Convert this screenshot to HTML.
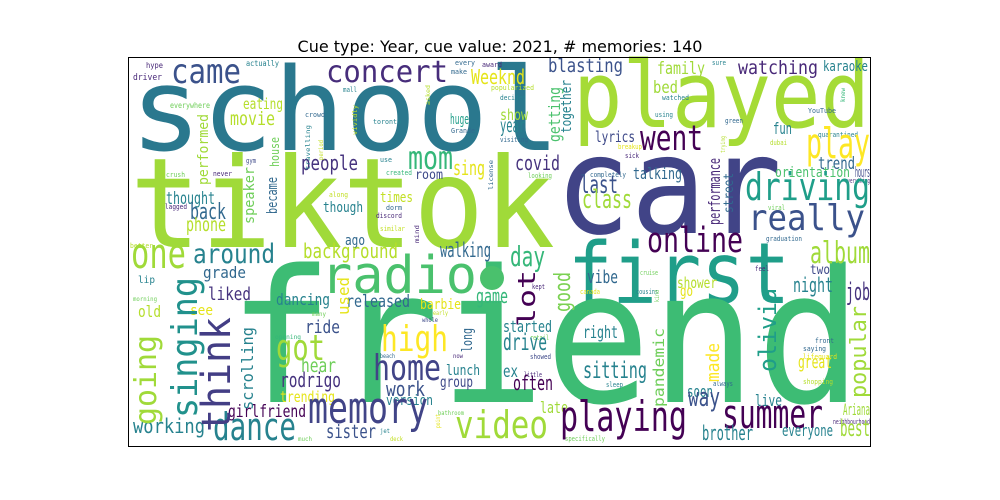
<!DOCTYPE html>
<html><head><meta charset="utf-8"><style>
html,body{margin:0;padding:0;background:#fff;}
svg{display:block;}
text{font-family:"DejaVu Sans Mono","Liberation Mono",monospace;}
</style></head><body>
<svg id="wc" width="1000" height="500" viewBox="0 0 1000 500">
<text x="500" y="52" text-anchor="middle" style="font-family:'DejaVu Sans','Liberation Sans',sans-serif" font-size="16" fill="#000">Cue type: Year, cue value: 2021, # memories: 140</text>
<rect x="128.5" y="57.5" width="742" height="389" fill="#fff" stroke="none"/>
<g id="words"></g>
<rect x="128.5" y="57.5" width="742" height="389" fill="none" stroke="#000" stroke-width="1"/>
</svg>
<script>
// [text, x, baselineY, fontSize, length, color, vertical]
const words = [
["school",130,150,115,430,"#2a788e",0],
["tiktok",130,247,125,425,"#a0da39",0],
["played",573,127,92,297,"#a5db36",0],
["car",555,233,136,227,"#414487",0],
["first",568,303,85,222,"#1f9e89",0],
["radio",321,293,52,156,"#4ac16d",0],
["friend",228,402,185,634,"#3dbc74",0],
["came",171,83,34,70,"#3b528b",0],
["concert",326,82,30,122,"#472d7b",0],
["Weeknd",471,84,20,54,"#e5e419",0],
["hype",146,68,8,17,"#482878",0],
["actually",246,66,8,33,"#26828e",0],
["driver",133,80,9,29,"#482878",0],
["everywhere",170,108,8,40,"#6ece58",0],
["eating",243,109,15,40,"#b5de2b",0],
["movie",230,125,19,45,"#b5de2b",0],
["mom",408,169,32,45,"#35b779",0],
["sing",453,175,20,32,"#e5e419",0],
["people",301,170,20,57,"#46337e",0],
["room",415,179,13,28,"#3e4989",0],
["huge",450,124,14,19,"#1f9e89",0],
["thought",166,204,17,49,"#26828e",0],
["back",190,219,22,36,"#31688e",0],
["phone",186,231,19,40,"#b5de2b",0],
["times",380,202,14,33,"#c2df23",0],
["though",323,212,14,40,"#26828e",0],
["ago",345,245,14,20,"#31688e",0],
["gym",246,163,7,10,"#3e4989",0],
["crush",166,177,7,19,"#6ece58",0],
["never",213,176,7,19,"#482878",0],
["lagged",165,209,7,22,"#482878",0],
["better",130,248,7,23,"#b5de2b",0],
["crowd",305,117,7,20,"#31688e",0],
["mall",343,92,7,14,"#26828e",0],
["toronto",373,124,7,28,"#26828e",0],
["Grande",451,133,7,24,"#31688e",0],
["use",380,162,7,12,"#26828e",0],
["created",386,175,7,26,"#35b779",0],
["every",455,65,7,20,"#31688e",0],
["make",451,74,7,16,"#31688e",0],
["award",482,67,7,20,"#482878",0],
["popularized",491,90,7,43,"#b5de2b",0],
["decided",500,100,7,26,"#26828e",0],
["visiting",500,142,7,28,"#31688e",0],
["along",329,197,7,19,"#c2df23",0],
["dorm",386,210,7,16,"#31688e",0],
["discord",376,218,7,26,"#482878",0],
["similar",380,231,7,25,"#c2df23",0],
["walking",440,257,20,51,"#31688e",0],
["background",303,258,20,95,"#b5de2b",0],
["around",193,263,27,82,"#26828e",0],
["one",131,268,42,55,"#a0da39",0],
["grade",203,278,16,43,"#31688e",0],
["lip",138,283,10,17,"#26828e",0],
["morning",133,301,6,24,"#6ece58",0],
["liked",208,300,18,43,"#46337e",0],
["old",138,317,16,23,"#b5de2b",0],
["see",190,315,14,23,"#e5e419",0],
["dancing",276,305,16,54,"#26828e",0],
["released",346,307,17,64,"#31688e",0],
["game",476,303,20,32,"#35b779",0],
["barbie",420,309,14,41,"#e5e419",0],
["early",433,315,6,15,"#c2df23",0],
["whole",422,322,6,16,"#3e4989",0],
["many",312,316,6,14,"#6ece58",0],
["ride",305,333,18,35,"#3b528b",0],
["opening",275,339,6,26,"#35b779",0],
["got",276,360,36,49,"#a0da39",0],
["high",381,351,36,67,"#fde725",0],
["home",373,380,36,68,"#414487",0],
["beach",380,358,6,15,"#31688e",0],
["now",453,358,6,10,"#482878",0],
["hear",301,372,19,35,"#6ece58",0],
["lunch",446,375,14,34,"#26828e",0],
["rodrigo",280,387,20,61,"#46337e",0],
["group",440,387,15,33,"#3e4989",0],
["work",386,396,20,39,"#3b528b",0],
["trending",280,402,15,55,"#e5e419",0],
["version",386,405,14,47,"#26828e",0],
["girlfriend",228,417,17,78,"#440154",0],
["memory",308,423,44,120,"#414487",0],
["bathroom",438,415,6,26,"#6ece58",0],
["jet",380,433,6,10,"#26828e",0],
["deck",390,441,6,13,"#c2df23",0],
["much",298,441,6,14,"#6ece58",0],
["working",133,433,20,72,"#26828e",0],
["dance",213,440,38,83,"#26828e",0],
["sister",326,438,19,50,"#3b528b",0],
["video",455,438,38,93,"#a0da39",0],
["blasting",548,72,19,75,"#3b528b",0],
["family",657,74,17,48,"#a0da39",0],
["watching",738,74,19,80,"#482878",0],
["karaoke",823,71,14,45,"#26828e",0],
["sure",712,65,7,14,"#26828e",0],
["bed",653,93,17,25,"#a0da39",0],
["watched",662,100,7,27,"#26828e",0],
["using",655,117,7,18,"#26828e",0],
["green",725,123,7,18,"#31688e",0],
["YouTube",808,113,7,28,"#31688e",0],
["quarantined",818,137,7,40,"#26828e",0],
["dubai",770,145,7,17,"#b5de2b",0],
["breakup",618,149,7,24,"#e5e419",0],
["sick",625,158,7,14,"#482878",0],
["completely",590,177,7,36,"#31688e",0],
["looking",528,178,7,24,"#6ece58",0],
["show",500,120,15,28,"#a0da39",0],
["year",500,132,19,25,"#26828e",0],
["went",640,150,35,63,"#440154",0],
["fun",773,134,16,19,"#26828e",0],
["lyrics",595,142,15,40,"#3e4989",0],
["play",806,158,42,64,"#fde725",0],
["covid",515,170,20,45,"#46337e",0],
["trend",818,169,17,37,"#31688e",0],
["orientation",775,177,14,75,"#4ac16d",0],
["hours",855,177,14,15,"#3e4989",0],
["talking",633,179,16,49,"#31688e",0],
["last",580,193,25,38,"#3b528b",0],
["class",582,208,26,50,"#a0da39",0],
["everything",845,183,7,25,"#482878",0],
["viral",768,210,7,17,"#6ece58",0],
["driving",745,200,38,125,"#1f9e89",0],
["really",748,230,36,117,"#3b528b",0],
["online",647,252,35,96,"#440154",0],
["graduation",766,241,7,36,"#31688e",0],
["album",810,263,30,60,"#a0da39",0],
["day",510,266,28,35,"#35b779",0],
["vibe",587,283,18,31,"#31688e",0],
["shower",677,288,15,40,"#b5de2b",0],
["go",680,296,15,13,"#e5e419",0],
["cruise",640,275,7,18,"#6ece58",0],
["cousins",636,294,7,22,"#26828e",0],
["canada",580,294,7,20,"#e5e419",0],
["kept",532,289,7,13,"#482878",0],
["feel",755,271,7,14,"#482878",0],
["two",810,274,13,20,"#3e4989",0],
["night",793,292,20,40,"#26828e",0],
["job",846,300,24,24,"#46337e",0],
["started",503,332,16,49,"#26828e",0],
["right",583,338,17,35,"#26828e",0],
["retail",530,340,7,19,"#6ece58",0],
["showed",530,359,7,21,"#3e4989",0],
["front",815,343,7,19,"#31688e",0],
["saying",803,351,7,23,"#31688e",0],
["lifeguard",803,359,7,34,"#e5e419",0],
["little",524,377,7,18,"#482878",0],
["drive",503,350,23,44,"#26828e",0],
["sitting",583,378,23,64,"#26828e",0],
["great",798,368,18,34,"#e5e419",0],
["ex",503,377,17,15,"#26828e",0],
["often",513,390,20,40,"#440154",0],
["sleep",606,387,7,17,"#26828e",0],
["always",713,386,7,20,"#31688e",0],
["shopping",803,384,7,30,"#b5de2b",0],
["soon",687,397,16,26,"#26828e",0],
["way",688,406,26,32,"#3b528b",0],
["live",755,406,16,27,"#26828e",0],
["late",540,413,16,28,"#a0da39",0],
["Ariana",843,415,16,27,"#a0da39",0],
["neighbourhood",833,424,7,37,"#482878",0],
["playing",560,431,42,127,"#440154",0],
["summer",722,428,40,101,"#440154",0],
["brother",702,440,20,51,"#26828e",0],
["everyone",782,436,16,51,"#26828e",0],
["best",840,436,23,30,"#a0da39",0],
["specifically",565,441,7,40,"#6ece58",0],
// vertical: [text, baselineX, bottomY, size, length, color, 1]
["performed",208,185,14,71,"#a0da39",1],
["house",279,167,12,30,"#6ece58",1],
["became",277,214,14,37,"#31688e",1],
["speaker",254,224,14,57,"#6ece58",1],
["vividly",357,135,6,30,"#c2df23",1],
["period",323,160,6,20,"#c2df23",1],
["travelling",310,170,6,45,"#26828e",1],
["license",493,190,6,30,"#31688e",1],
["asked",430,105,6,20,"#b5de2b",1],
["mind",419,243,6,18,"#482878",1],
["getting",560,142,16,55,"#4ac16d",1],
["together",571,133,14,53,"#26828e",1],
["knew",845,102,6,14,"#35b779",1],
["trying",725,153,6,17,"#b5de2b",1],
["performance",720,225,16,67,"#482878",1],
["street",733,213,13,40,"#31688e",1],
["singing",197,418,36,141,"#21918c",1],
["going",156,425,30,90,"#a0da39",1],
["think",230,432,40,115,"#433e85",1],
["scrolling",253,410,16,83,"#26828e",1],
["used",349,315,16,38,"#e5e419",1],
["long",472,352,14,24,"#31688e",1],
["point",440,428,6,14,"#e5e419",1],
["lot",535,327,24,57,"#440154",1],
["good",570,312,22,40,"#7ad151",1],
["pandemic",664,407,15,79,"#6ece58",1],
["made",719,382,18,39,"#fde725",1],
["olivia",776,372,24,84,"#1f9e89",1],
["popular",866,398,22,92,"#a0da39",1],
["kind",659,302,6,12,"#6ece58",1]
];
const NS = "http://www.w3.org/2000/svg";
const layer = document.getElementById("words");
for (const w of words) {
  const t = document.createElementNS(NS, "text");
  t.setAttribute("x", w[1]);
  t.setAttribute("y", w[2]);
  t.setAttribute("font-size", w[3]);
  t.setAttribute("textLength", w[4]);
  t.setAttribute("lengthAdjust", "spacingAndGlyphs");
  t.setAttribute("fill", w[5]);
  if (w[6]) t.setAttribute("transform", "rotate(-90 " + w[1] + " " + w[2] + ")");
  t.textContent = w[0];
  
  
  layer.appendChild(t);
}
const dot = document.createElementNS(NS, "circle");
dot.setAttribute("cx", 492);
dot.setAttribute("cy", 278);
dot.setAttribute("r", 12);
dot.setAttribute("fill", "#4ac16d");


layer.appendChild(dot);
</script>
</body></html>
